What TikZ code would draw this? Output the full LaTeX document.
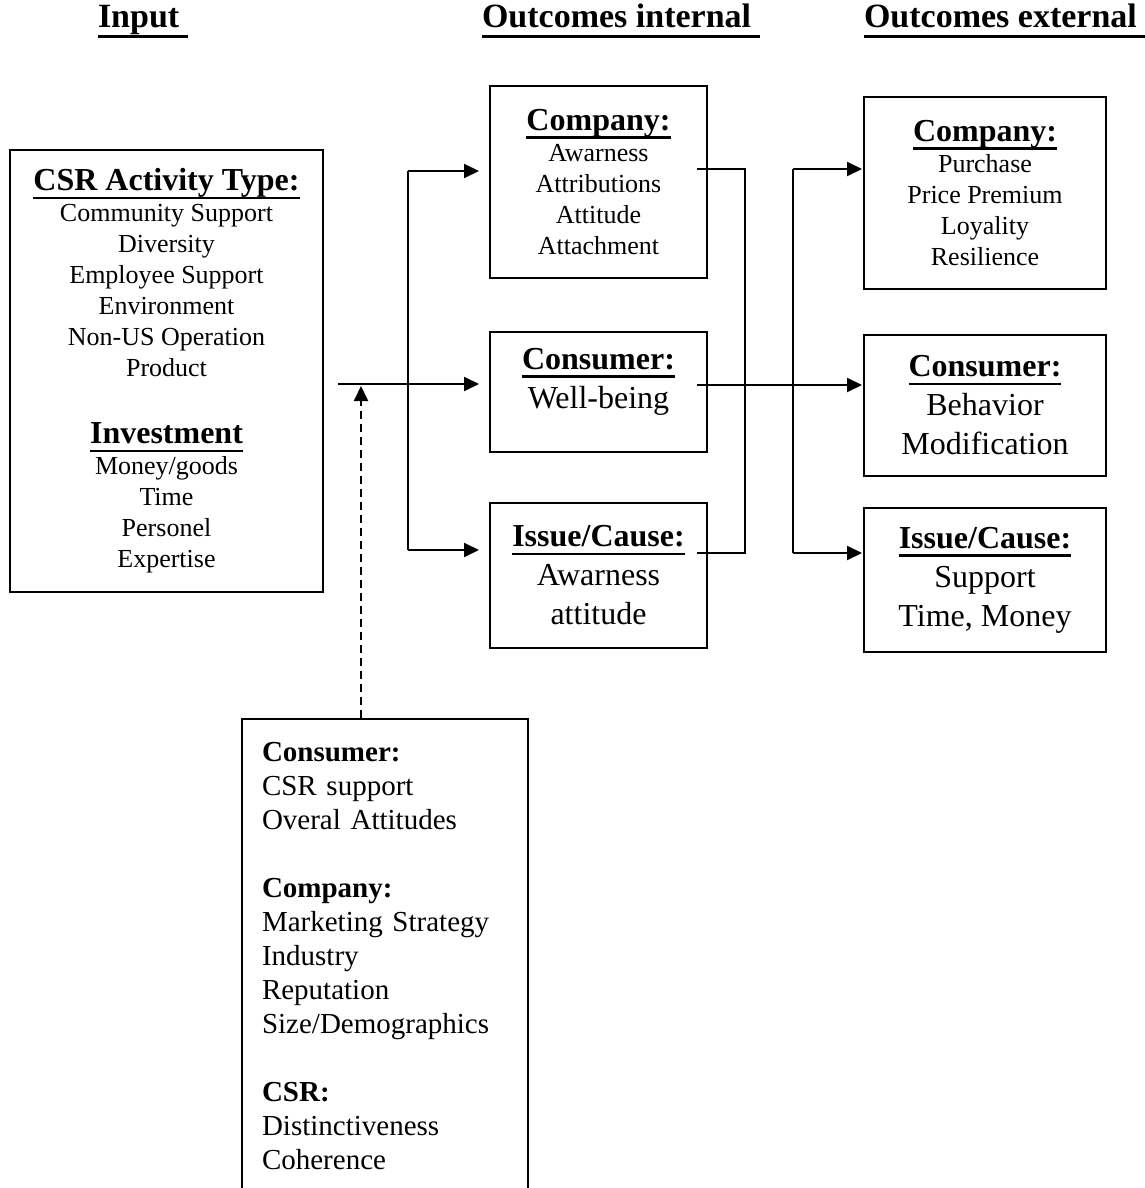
\documentclass[tikz,border=0pt]{standalone}
\usepackage{fontspec}
\setmainfont{Liberation Serif}
\usepackage{tikz}
\usetikzlibrary{arrows.meta,positioning}

\newcommand{\colhead}[1]{\leavevmode\setbox0=\hbox{\fontsize{17}{20}\selectfont\bfseries #1}\rlap{\rule[-4.8pt]{\wd0}{1.5pt}}\box0}
\newcommand{\boxhead}[1]{\leavevmode\setbox0=\hbox{\fontsize{16}{19}\selectfont\bfseries #1}\rlap{\rule[-4.2pt]{\wd0}{1.3pt}}\box0}

\begin{document}
\begin{tikzpicture}[x=0.5pt, y=-0.5pt, >={Triangle[length=7.5pt,width=7pt]}, line width=1pt]
	\tikzset{box/.style={draw, line width=1pt, inner sep=0pt, align=center}}
	\tikzstyle{listtxt}=[font=\fontsize{13}{15.5}\selectfont]
	\tikzstyle{bigtxt}=[font=\fontsize{16}{19.5}\selectfont]
	\useasboundingbox (0,0) rectangle (1145,1188);

	%TITULOS
	\node[anchor=base west, inner sep=0pt] (hin)  at (97,28)  {\colhead{Input\ }};
	\node[anchor=base west, inner sep=0pt] (hint) at (481,28) {\colhead{Outcomes internal\ }};
	\node[anchor=base west, inner sep=0pt] (hext) at (863,28) {\colhead{Outcomes external\ }};

	%CAJAS
	\node[box, listtxt, minimum width=156.5pt, minimum height=221pt] (in) at (166.5,371)
		{\boxhead{CSR Activity Type:}\\Community Support\\Diversity\\Employee Support\\Environment\\Non-US Operation\\Product\\[18pt]\boxhead{Investment}\\Money/goods\\Time\\Personel\\Expertise};

	\node[box, listtxt, minimum width=108.5pt, minimum height=96pt] (intco) at (598.5,182)
		{\boxhead{Company:}\\Awarness\\Attributions\\Attitude\\Attachment};
	\node[box, bigtxt, minimum width=108.5pt, minimum height=60pt] (intcons) at (598.5,392)
		{\boxhead{Consumer:}\\Well-being\\[-6pt]\mbox{}};
	\node[box, bigtxt, minimum width=108.5pt, minimum height=72.5pt] (intiss) at (598.5,575.5)
		{\boxhead{Issue/Cause:}\\Awarness\\attitude};

	\node[box, listtxt, minimum width=121pt, minimum height=96pt] (extco) at (985,193)
		{\boxhead{Company:}\\Purchase\\Price Premium\\Loyality\\Resilience};
	\node[box, bigtxt, minimum width=121pt, minimum height=70.5pt] (extcons) at (985,405.5)
		{\boxhead{Consumer:}\\Behavior\\Modification};
	\node[box, bigtxt, minimum width=121pt, minimum height=72pt] (extiss) at (985,580)
		{\boxhead{Issue/Cause:}\\Support\\Time, Money};

	\node[box, anchor=north, align=left, text width=123pt, inner xsep=10pt, inner ysep=11.5pt,
		font=\fontsize{14.5}{17}\selectfont] (mod) at (385,718)
		{\textbf{Consumer:}\\CSR support\\Overal Attitudes\\[17pt]
		 \textbf{Company:}\\Marketing Strategy\\Industry\\Reputation\\Size/Demographics\\[17pt]
		 \textbf{CSR:}\\Distinctiveness\\Coherence};

	%PUNTOS
	\coordinate (s0) at (338,384);
	\coordinate (s1) at (408,171);
	\coordinate (s2) at (408,550);
	\coordinate (d0) at (361,718);
	\coordinate (d1) at (361,386);
	\coordinate (o1) at (697,169);
	\coordinate (o2) at (697,553);
	\coordinate (o3) at (697,385);
	\coordinate (j1) at (745,169);
	\coordinate (j2) at (745,553);
	\coordinate (k1) at (793,169);
	\coordinate (k2) at (793,553);

	%FLECHAS
	\draw (s1) -- (s2);
	\draw[->, shorten >=5pt] (s0) -- (s0 -| intcons.west);
	\draw[->, shorten >=5pt] (s1) -- (s1 -| intco.west);
	\draw[->, shorten >=5pt] (s2) -- (s2 -| intiss.west);
	\draw[->, dash pattern=on 4pt off 2.5pt] (d0) -- (d1);

	\draw (o1) -- (j1) -- (j2) -- (o2);
	\draw (k1) -- (k2);
	\draw[->, shorten >=0.5pt] (o3) -- (o3 -| extcons.west);
	\draw[->, shorten >=0.5pt] (k1) -- (k1 -| extco.west);
	\draw[->, shorten >=0.5pt] (k2) -- (k2 -| extiss.west);
\end{tikzpicture}
\end{document}
